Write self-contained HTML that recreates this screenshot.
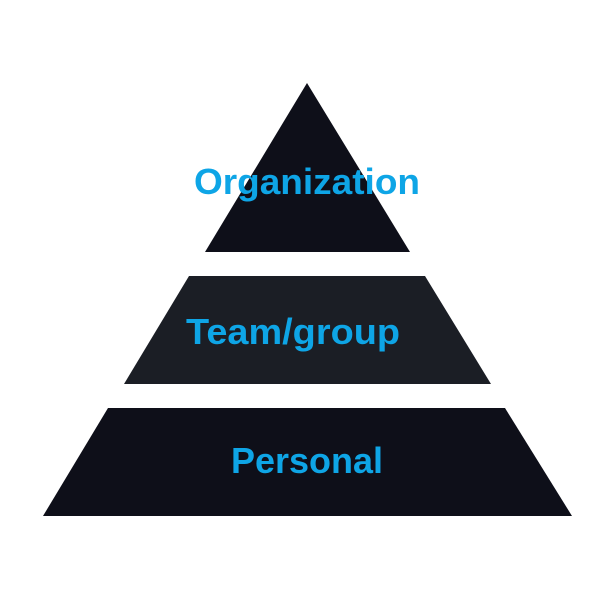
<!DOCTYPE html>
<html><head><style>html,body{margin:0;padding:0;background:#fff;}svg{display:block}</style></head>
<body>
<svg width="600" height="600" viewBox="0 0 600 600" xmlns="http://www.w3.org/2000/svg">
<rect width="600" height="600" fill="#fff"/>
<polygon points="307,83 410,252 205,252" fill="#0e0f19"/>
<polygon points="189,276 425,276 491,384 124,384" fill="#1b1e25"/>
<polygon points="108,408 505,408 572,516 43,516" fill="#0e0f19"/>
<g font-family="Liberation Sans, sans-serif" font-weight="bold" font-size="36" fill="#0ea5e6">
<text x="194" y="194" textLength="226" lengthAdjust="spacingAndGlyphs">Organization</text>
<text x="186" y="344" textLength="214" lengthAdjust="spacingAndGlyphs">Team/group</text>
<text x="231" y="473" textLength="152" lengthAdjust="spacingAndGlyphs">Personal</text>
</g>
</svg>
</body></html>
